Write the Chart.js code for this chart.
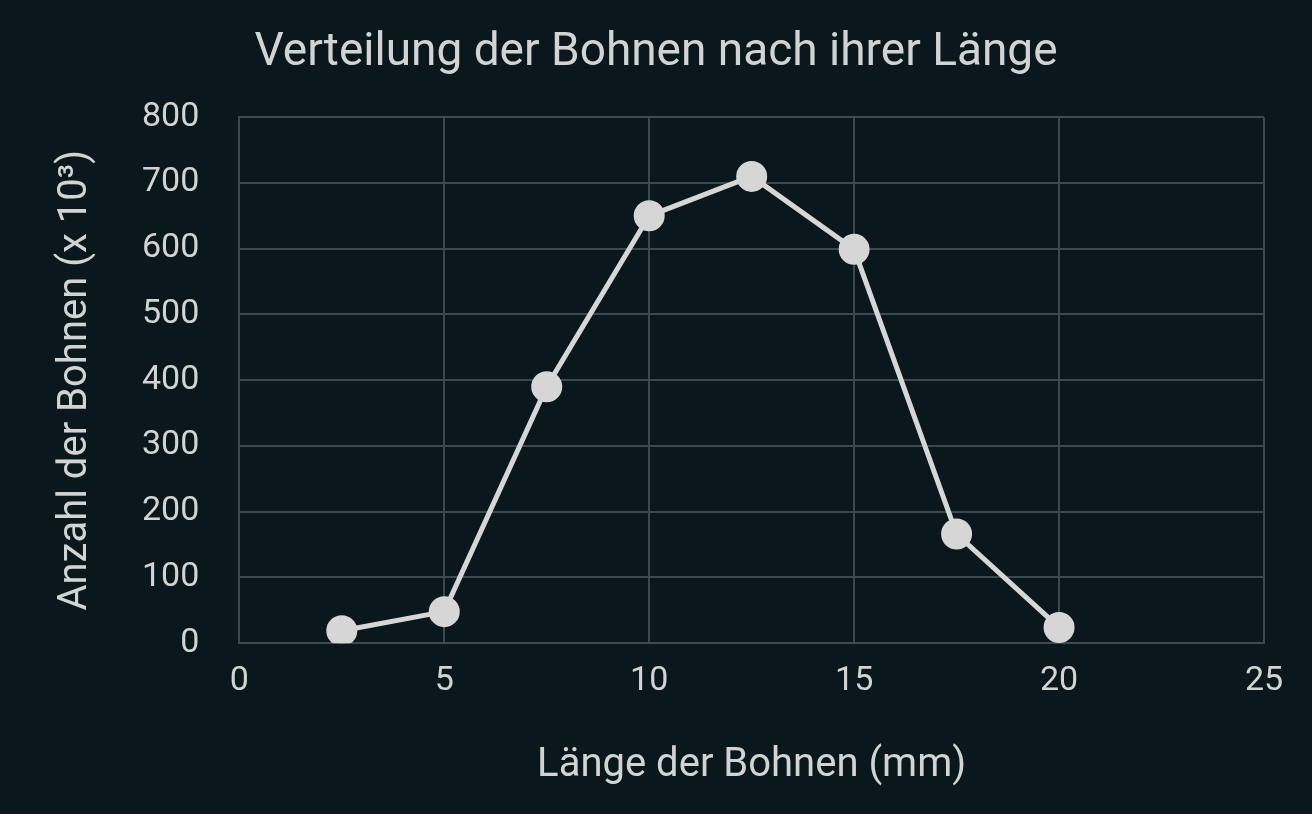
<!DOCTYPE html>
<html>
<head>
<meta charset="utf-8">
<script src="https://cdn.jsdelivr.net/npm/chart.js@4"></script>
<style>
  html, body { margin: 0; padding: 0; background: #0a181d; overflow: hidden; }
</style>
</head>
<body>
<canvas id="myChart" width="1312" height="814"></canvas>
<script>
const laengen = [2.5, 5, 7.5, 10, 12.5, 15, 17.5, 20];
const anzahl = [19, 48, 390, 650, 710, 599, 166, 24];
const titel = 'Verteilung der Bohnen nach ihrer Länge';
const xTitel = 'Länge der Bohnen (mm)';
const yTitel = 'Anzahl der Bohnen (x 10³)';

const textFarbe = '#d2d4d4';
const gitterFarbe = '#3b4a4f';

const ctx = document.getElementById('myChart');
new Chart(ctx, {
  type: 'scatter',
  data: {
    datasets: [{
      data: laengen.map((x, i) => ({ x: x, y: anzahl[i] })),
      showLine: true,
      borderColor: '#d6d6d6',
      backgroundColor: '#d6d6d6',
      borderWidth: 5,
      pointRadius: 13,
      pointHoverRadius: 13
    }]
  },
  options: {
    responsive: false,
    animation: false,
    devicePixelRatio: 1,
    layout: { padding: { left: 48, right: 48, top: 10, bottom: 20 } },
    plugins: {
      legend: { display: false },
      tooltip: { enabled: false },
      title: {
        display: true,
        text: titel,
        color: textFarbe,
        font: { family: 'Roboto', size: 46, weight: 'normal' },
        padding: { top: 16, bottom: 36 }
      }
    },
    scales: {
      x: {
        type: 'linear',
        min: 0, max: 25,
        ticks: { stepSize: 5, color: textFarbe, font: { family: 'Roboto', size: 34 }, padding: 18 },
        grid: { color: gitterFarbe, lineWidth: 2, drawTicks: false },
        border: { color: gitterFarbe, width: 2 },
        title: { display: true, text: xTitel, color: textFarbe, font: { family: 'Roboto', size: 40 }, padding: { top: 22 } }
      },
      y: {
        min: 0, max: 800,
        ticks: { stepSize: 100, color: textFarbe, font: { family: 'Roboto', size: 34 }, padding: 40 },
        grid: { color: gitterFarbe, lineWidth: 2, drawTicks: false },
        border: { color: gitterFarbe, width: 2 },
        title: { display: true, text: yTitel, color: textFarbe, font: { family: 'Roboto', size: 40 }, padding: { bottom: 2 } }
      }
    }
  }
});
</script>
</body>
</html>
